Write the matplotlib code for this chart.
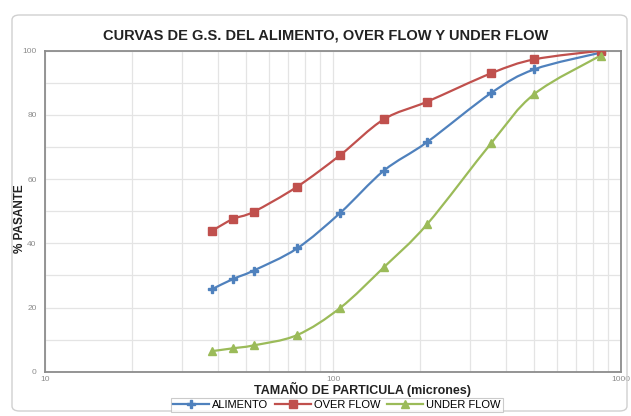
import numpy as np
import matplotlib
matplotlib.use('Agg')
import matplotlib.pyplot as plt
from matplotlib.path import Path
from matplotlib.patches import PathPatch, FancyBboxPatch
from matplotlib.lines import Line2D
from matplotlib.ticker import FixedLocator, NullFormatter

plt.rcParams['font.family'] = ['Liberation Sans', 'DejaVu Sans']

# tamaño de partícula (micrones)
tamano = [38, 45, 53, 75, 106, 150, 212, 355, 500, 850]
alimento = [25.7, 28.9, 31.5, 38.4, 49.5, 62.6, 71.5, 86.9, 94.2, 99.4]
over_flow = [43.9, 47.6, 49.8, 57.6, 67.5, 78.6, 84.1, 93.0, 97.3, 100.0]
under_flow = [6.4, 7.3, 8.2, 11.4, 19.9, 32.5, 45.9, 71.3, 86.5, 98.5]

series = [
    ("ALIMENTO", alimento, "#4F81BD", "P", 6),
    ("OVER FLOW", over_flow, "#C0504D", "s", 5.5),
    ("UNDER FLOW", under_flow, "#9BBB59", "^", 5.5),
]


def smooth_path(x, y):
    # curva suavizada tipo Excel (Catmull-Rom -> Bezier) en espacio log
    lx = np.log10(x)
    y = np.asarray(y, dtype=float)
    n = len(lx)
    verts = [(x[0], y[0])]
    codes = [Path.MOVETO]
    for i in range(n - 1):
        i0 = max(i - 1, 0)
        i3 = min(i + 2, n - 1)
        c1 = (lx[i] + (lx[i + 1] - lx[i0]) / 6, y[i] + (y[i + 1] - y[i0]) / 6)
        c2 = (lx[i + 1] - (lx[i3] - lx[i]) / 6, y[i + 1] - (y[i3] - y[i]) / 6)
        verts += [(10 ** c1[0], c1[1]), (10 ** c2[0], c2[1]), (x[i + 1], y[i + 1])]
        codes += [Path.CURVE4] * 3
    return Path(verts, codes)


fig = plt.figure(figsize=(6.31, 4.16), dpi=100)
fig.patch.set_facecolor('white')

border = FancyBboxPatch((12 / 631, 5 / 416), 615 / 631, 396 / 416,
                        boxstyle="round,pad=0,rounding_size=0.012",
                        transform=fig.transFigure, facecolor='none',
                        edgecolor='#D0D0D0', linewidth=1.0)
fig.patches.append(border)

ax = fig.add_axes([45 / 631, 1 - 371.7 / 416, 576 / 631, 321 / 416])
ax.set_xscale('log')
ax.set_xlim(10, 1000)
ax.set_ylim(0, 100)

ax.yaxis.set_major_locator(FixedLocator([0, 20, 40, 60, 80, 100]))
ax.yaxis.set_minor_locator(FixedLocator([10, 30, 50, 70, 90]))
ax.grid(True, which='both', color='#E4E4E4', linewidth=0.9)
ax.set_axisbelow(True)
ax.xaxis.set_minor_formatter(NullFormatter())
ax.set_xticks([10, 100, 1000])
ax.set_xticklabels(['10', '100', '1000'])
ax.tick_params(which='both', length=0, labelsize=6, colors='#8C8C8C')
ax.tick_params(axis='x', pad=3)
ax.tick_params(axis='y', pad=6)

for sp in ax.spines.values():
    sp.set_color('#8C8C8C')
    sp.set_linewidth(1.3)

handles = []
for name, vals, color, mk, ms in series:
    ax.add_patch(PathPatch(smooth_path(tamano, vals), facecolor='none',
                           edgecolor=color, linewidth=1.6, zorder=3))
    ax.plot(tamano, vals, linestyle='none', marker=mk, markersize=ms,
            color=color, zorder=4)
    handles.append(Line2D([], [], color=color, linewidth=1.6, marker=mk,
                          markersize=ms, label=name))

fig.text(326 / 631, 1 - 36 / 416, "CURVAS DE G.S. DEL ALIMENTO, OVER FLOW Y UNDER FLOW",
         ha='center', va='center', fontsize=10.5, fontweight='bold', color='#222222')
fig.text(20 / 631, 1 - 219 / 416, "% PASANTE", rotation=90, ha='center', va='center',
         fontsize=8.5, fontweight='bold', color='#222222')
fig.text(363 / 631, 1 - 389 / 416, "TAMAÑO DE PARTICULA (micrones)", ha='center',
         va='center', fontsize=9, fontweight='bold', color='#222222')

leg = fig.legend(handles=handles, loc='center', bbox_to_anchor=(337 / 631, 1 - 405 / 416),
                 ncol=3, fontsize=8, frameon=True, fancybox=False,
                 edgecolor='#BFBFBF', handlelength=3.2, columnspacing=0.6,
                 handletextpad=0.3, borderpad=0.2)
leg.get_frame().set_linewidth(0.8)

fig.savefig('out.png', dpi=100)
